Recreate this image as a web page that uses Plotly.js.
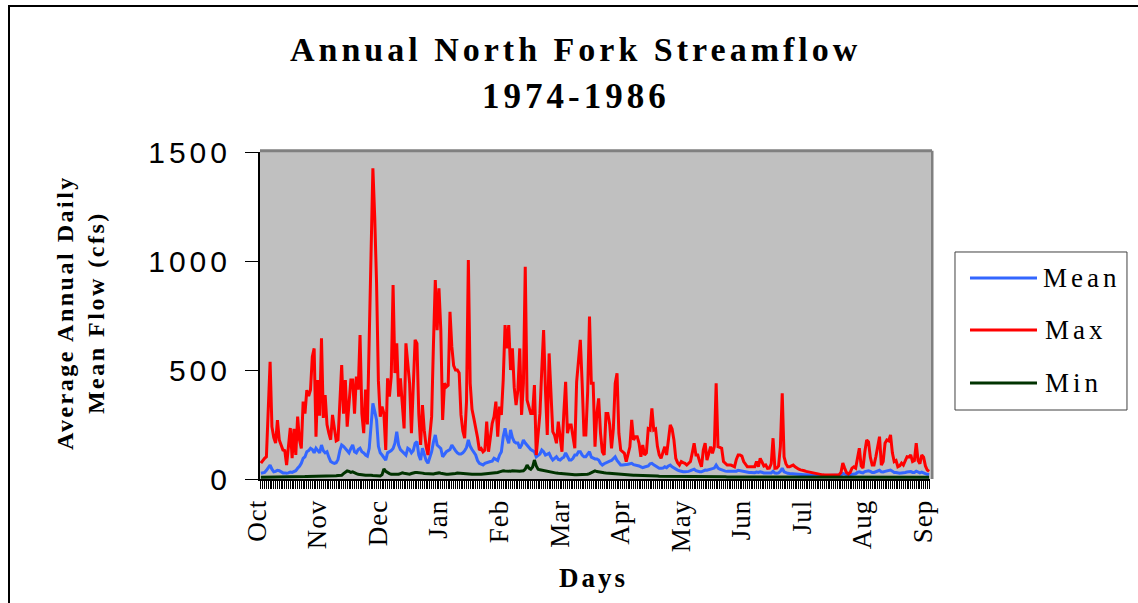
<!DOCTYPE html>
<html><head><meta charset="utf-8">
<script src="https://cdn.plot.ly/plotly-3.0.1.min.js"></script>
<style>
html,body{margin:0;padding:0;background:#fff;overflow:hidden}
#chart{width:1138px;height:603px;position:absolute;left:0;top:0}
#frame{position:absolute;left:8px;top:5px;width:1200px;height:700px;border-left:2px solid #000;border-top:2px solid #000;pointer-events:none}
#chart .annotation[data-index="0"] text, #chart .annotation[data-index="1"] text {letter-spacing:4px !important}
#chart .annotation[data-index="2"] text {letter-spacing:2.5px !important}
#chart .annotation[data-index="3"] text {letter-spacing:3px !important}
#chart .annotation[data-index="4"] text, #chart .annotation[data-index="5"] text, #chart .annotation[data-index="6"] text {letter-spacing:4px !important}
#chart .ytick text {letter-spacing:4px !important}
#chart .xtick text {letter-spacing:1px !important}
</style></head>
<body>
<div id="chart"></div>
<div id="frame"></div>
<script>
var monthLabels = ["Oct","Nov","Dec","Jan","Feb","Mar","Apr","May","Jun","Jul","Aug","Sep"];
var monthTickDays = [0,33,66,99,132,165,198,231,264,297,330,363];

var maxFlow = [
73,85,95,102,300,538,240,190,165,270,
179,150,133,130,64,150,234,96,230,110,
286,180,140,355,300,408,380,408,561,599,
194,454,290,645,280,385,250,210,180,294,
220,175,180,360,523,300,454,240,350,454,
454,300,470,410,660,300,210,410,250,600,
974,1425,1200,898,450,286,332,300,133,462,
378,470,890,486,622,378,462,330,232,622,
540,439,210,400,638,622,300,156,339,223,
150,110,200,286,622,913,683,875,683,271,
439,423,430,767,607,520,500,500,486,294,
220,187,355,1005,439,320,278,240,190,133,
140,125,133,263,125,190,255,286,355,194,
332,294,454,706,599,706,500,599,420,339,
408,599,294,439,974,362,330,301,301,431,
110,230,301,500,683,408,202,576,378,217,
200,164,263,202,125,300,446,210,248,248,
200,141,446,540,638,439,202,202,400,745,
439,439,148,300,370,210,125,110,301,301,
250,141,230,439,485,210,133,125,118,80,
110,148,271,179,194,194,164,102,156,110,
120,230,225,324,225,230,150,110,95,120,
148,110,194,248,230,179,95,75,64,80,
75,72,64,72,80,120,164,110,110,80,
56,133,164,87,120,148,118,148,439,148,
145,141,80,70,64,64,64,60,56,90,
110,110,105,80,65,56,56,56,56,56,
80,56,95,80,60,64,49,50,70,187,
49,50,60,150,393,102,70,56,56,60,
64,56,49,45,42,41,38,35,33,31,
29,26,25,23,22,20,19,18,18,18,
18,18,18,18,19,20,30,73,50,30,
23,30,50,56,50,100,141,60,50,125,
179,170,100,64,64,102,150,194,64,80,
164,179,175,202,120,80,85,56,60,73,
64,80,102,100,110,80,85,164,85,70,
110,100,60,41,35
];

var meanFlow = [
26,28,30,40,55,64,45,33,35,40,
38,33,28,28,26,28,32,30,35,38,
49,58,72,95,102,125,130,141,135,120,
141,130,120,156,130,120,125,100,80,75,
72,75,90,130,156,150,140,125,120,140,
156,125,120,135,141,125,120,110,105,141,
240,347,310,271,150,120,110,100,87,120,
125,130,140,164,217,156,135,125,115,110,
141,135,120,130,164,171,110,87,141,110,
85,72,95,125,170,202,156,150,140,102,
115,125,130,135,156,140,130,120,115,115,
120,130,145,179,150,135,125,110,85,72,
68,64,72,75,80,80,82,95,90,85,
110,125,194,232,190,164,225,190,171,165,
165,141,155,179,165,155,140,135,130,125,
102,110,115,133,125,110,115,118,100,87,
95,102,90,87,95,100,120,100,87,87,
95,110,110,125,125,110,102,102,115,125,
100,95,92,92,87,72,64,70,75,78,
82,85,95,102,85,75,64,64,64,66,
68,70,72,66,64,64,60,56,52,55,
56,60,70,72,65,60,55,49,49,50,
56,52,60,64,56,50,45,41,38,35,
33,33,33,35,38,41,45,38,35,33,
33,38,41,40,42,44,46,50,64,50,
45,41,38,36,35,35,35,34,33,36,
40,38,35,33,31,30,30,30,29,29,
32,30,33,30,28,28,27,27,28,35,
27,26,28,35,49,33,28,26,25,24,
24,23,22,22,21,21,20,20,19,19,
18,18,17,17,17,16,16,16,16,16,
16,16,16,16,16,17,18,26,24,20,
18,20,22,24,24,30,33,30,28,34,
37,38,35,30,30,33,37,40,33,32,
35,37,38,41,36,30,30,27,26,28,
28,30,32,33,34,30,30,36,30,28,
32,30,25,22,20
];

var minFlow = [
8,8,8,8,9,10,9,9,8,8,
8,8,8,8,8,8,8,9,9,9,
10,10,10,11,11,12,12,12,12,12,
12,13,13,13,13,14,14,14,14,15,
15,15,16,16,17,25,33,37,35,30,
33,28,25,22,20,18,18,17,17,18,
17,16,15,14,14,14,20,46,35,28,
25,22,22,20,20,22,25,28,26,24,
22,22,25,28,30,30,30,28,27,25,
24,23,22,22,23,25,27,28,26,24,
23,22,22,22,23,24,25,27,26,25,
24,24,23,22,22,22,22,23,23,22,
22,23,22,22,23,24,25,26,28,30,
33,36,38,37,36,35,36,38,37,37,
36,36,37,38,45,64,50,45,55,87,
60,45,42,40,38,36,35,33,32,30,
28,27,26,25,24,23,22,22,21,21,
21,20,20,20,20,21,22,22,22,25,
30,35,37,34,32,31,30,29,28,27,
27,26,25,24,23,22,21,20,20,19,
19,18,18,17,17,17,16,16,16,15,
15,15,15,14,14,14,14,13,13,13,
13,12,12,12,12,12,11,11,11,11,
11,11,10,10,10,10,10,10,10,10,
10,10,10,10,10,10,10,11,12,11,
10,10,10,10,9,9,9,9,9,9,
9,9,9,9,9,9,9,9,9,9,
9,9,9,9,9,9,9,9,9,10,
9,9,9,9,10,9,9,8,8,8,
8,8,8,8,8,8,7,7,7,7,
7,7,7,7,7,7,7,7,7,7,
7,7,7,7,7,7,7,7,8,8,
8,8,8,8,8,8,8,8,8,8,
8,8,8,8,8,8,8,8,8,8,
8,8,8,9,9,9,9,8,8,8,
8,8,8,8,8,8,8,8,8,8,
8,8,8,8,8
];

var seriesNames = ["Mean","Max","Min"];
var seriesColors = ["#3366ff","#ff0000","#003300"];

var days = maxFlow.map(function(_, i){ return i; });
var allSeries = [meanFlow, maxFlow, minFlow];

var traces = allSeries.map(function(s, k){
  return {x: days, y: s, type: "scatter", mode: "lines", name: seriesNames[k],
          line: {color: seriesColors[k], width: 3}, showlegend: false, hoverinfo: "skip"};
});

var serif = "Liberation Serif, Times New Roman, serif";
var sans = "Liberation Sans, Arial, sans-serif";

var shapes = [
  {type:"line", xref:"paper", yref:"paper", x0:0, x1:1.003, y0:1.004, y1:1.004, line:{color:"#808080", width:3}},
  {type:"line", xref:"paper", yref:"paper", x0:1.003, x1:1.003, y0:0, y1:1.004, line:{color:"#808080", width:3}},
  {type:"rect", xref:"paper", yref:"paper", x0:1.0373, x1:1.294, y0:0.211, y1:0.6942, line:{color:"#404040", width:1}, fillcolor:"#ffffff"}
];
var annotations = [
  {xref:"paper", yref:"paper", x:0.471, y:1.312, xanchor:"center", yanchor:"middle", showarrow:false,
   text:"<b>Annual North Fork Streamflow</b>", font:{family:serif, size:34, color:"#000"}},
  {xref:"paper", yref:"paper", x:0.471, y:1.171, xanchor:"center", yanchor:"middle", showarrow:false,
   text:"<b>1974-1986</b>", font:{family:serif, size:35, color:"#000"}},
  {xref:"paper", yref:"paper", x:-0.267, y:0.5077, xanchor:"center", yanchor:"middle", showarrow:false, textangle:-90,
   text:"<b>Average Annual Daily<br>Mean Flow (cfs)</b>", font:{family:serif, size:24, color:"#000"}},
  {xref:"paper", yref:"paper", x:0.4985, y:-0.3028, xanchor:"center", yanchor:"middle", showarrow:false,
   text:"<b>Days</b>", font:{family:serif, size:27, color:"#000"}}
];
var legY = [0.6147, 0.4557, 0.2936];
seriesNames.forEach(function(n, k){
  shapes.push({type:"line", xref:"paper", yref:"paper", x0:1.0597, x1:1.1597, y0:legY[k], y1:legY[k], line:{color:seriesColors[k], width:3}});
  annotations.push({xref:"paper", yref:"paper", x:1.178, y:legY[k], xanchor:"left", yanchor:"middle", text:n, showarrow:false, font:{family:serif, size:27, color:"#000"}});
});

var layout = {
  width: 1138, height: 603,
  margin: {l:260, r:208, t:152, b:124},
  paper_bgcolor: "#ffffff",
  plot_bgcolor: "#c0c0c0",
  xaxis: {
    range: [-0.5, 364.5], tickvals: monthTickDays, ticktext: monthLabels, tickangle: -90, ticklabelshift: -4,
    ticks: "outside", ticklen: 8, tickcolor: "#000", tickwidth: 1,
    minor: {dtick: 1, tick0: 0, ticks: "outside", ticklen: 8, tickcolor: "#000", tickwidth: 1, showgrid: false},
    showline: true, linecolor: "#000", linewidth: 2, showgrid: false, zeroline: false,
    tickfont: {family: serif, size: 27, color: "#000"}
  },
  yaxis: {
    range: [0, 1500], dtick: 500, ticks: "outside", ticklen: 13, tickcolor: "#000", tickwidth: 1,
    ticklabelstandoff: 8,
    showline: true, linecolor: "#000", linewidth: 2, showgrid: false, zeroline: false,
    tickfont: {family: sans, size: 30, color: "#000"}
  },
  shapes: shapes,
  annotations: annotations
};

Plotly.newPlot("chart", traces, layout, {staticPlot: true, displayModeBar: false});
</script>
</body></html>
